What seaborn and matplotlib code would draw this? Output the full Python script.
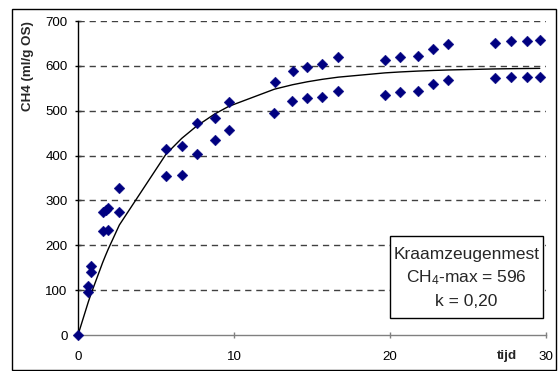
import numpy as np
import pandas as pd
import matplotlib
matplotlib.use("Agg")
import matplotlib.pyplot as plt
import seaborn as sns
from matplotlib.patches import Rectangle

# Cumulative methane production, two replicates (time in days, ml CH4 / g OS)
t_rep1 = [0, 0.66, 0.83, 1.58, 1.77, 1.94, 2.65, 5.64, 6.65, 7.6, 8.76, 9.66,
          12.63, 13.76, 14.7, 15.66, 16.69, 19.68, 20.64, 21.77, 22.78, 23.7,
          26.7, 27.78, 28.8, 29.6]
ch4_rep1 = [0, 110, 154, 275, 279, 284, 328, 415, 421, 473, 484, 519,
            563, 589, 597, 604, 620, 612, 620, 623, 638, 649,
            652, 655, 655, 658]
t_rep2 = [0.66, 0.83, 1.58, 1.94, 2.65, 5.64, 6.65, 7.6, 8.76, 9.66,
          12.58, 13.74, 14.7, 15.66, 16.69, 19.68, 20.64, 21.77, 22.78, 23.7,
          26.7, 27.78, 28.8, 29.6]
ch4_rep2 = [96, 141, 232, 233, 274, 354, 357, 403, 435, 457,
            496, 521, 528, 530, 544, 534, 542, 544, 560, 568,
            572, 575, 575, 575]

# First-order fit parameters
ch4_max = 596
k_rate = 0.20

x_ticks = [0, 10, 20, 30]
y_ticks = [0, 100, 200, 300, 400, 500, 600, 700]

points = pd.DataFrame({
    "tijd": t_rep1 + t_rep2,
    "ch4": ch4_rep1 + ch4_rep2,
})
fit_t = np.array(sorted(set(t_rep1) | set(t_rep2)))
fit = pd.DataFrame({"tijd": fit_t, "ch4": ch4_max * (1 - np.exp(-k_rate * fit_t))})

sns.set_theme(style="white")
plt.rcParams["font.family"] = ["Liberation Sans", "DejaVu Sans"]
plt.rcParams["mathtext.fontset"] = "custom"
plt.rcParams["mathtext.rm"] = "Liberation Sans"
plt.rcParams["mathtext.it"] = "Liberation Sans:italic"

W, H = 558, 371
fig = plt.figure(figsize=(W / 100, H / 100), dpi=100)
ax = fig.add_axes([78 / W, 36 / H, 468 / W, 314 / H])

# dashed horizontal gridlines (the zero line is the axis itself)
for yv in y_ticks[1:]:
    ax.axhline(yv, color="#404040", lw=1.0, dashes=(4.5, 3.5), zorder=1)

sns.lineplot(data=fit, x="tijd", y="ch4", ax=ax, color="black", lw=1.0,
             zorder=3, legend=False)
sns.scatterplot(data=points, x="tijd", y="ch4", ax=ax, marker="D",
                color="#000080", edgecolor="#000080", s=30, linewidth=0.3,
                zorder=4, clip_on=False, legend=False)

ax.set_xlim(0, 30)
ax.set_ylim(0, 700)
ax.set_xticks(x_ticks)
ax.set_yticks(y_ticks)
ax.set_xlabel("")
ax.set_ylabel("")

for side in ("top", "right"):
    ax.spines[side].set_visible(False)
ax.spines["left"].set_color("black")
ax.spines["left"].set_linewidth(1.0)
ax.spines["bottom"].set_color("#808080")
ax.spines["bottom"].set_linewidth(1.0)

ax.tick_params(axis="y", direction="inout", length=5, width=1.0,
               color="black", labelsize=9.6, pad=5, left=True)
ax.tick_params(axis="x", direction="inout", length=5, width=1.0,
               color="#808080", labelsize=9.6, pad=9, bottom=True)
for lbl in ax.get_xticklabels() + ax.get_yticklabels():
    lbl.set_color("black")

fig.text(27.5 / W, 1 - 66 / H, "CH4 (ml/g OS)", rotation=90, fontsize=9.6,
         fontweight="bold", ha="center", va="center")
fig.text(507 / W, 1 - 356 / H, "tijd", fontsize=9.6, fontweight="bold",
         ha="center", va="center")

# annotation box with fit parameters
bx0, bx1, by0, by1 = 390, 543, 236, 318
fig.add_artist(Rectangle((bx0 / W, 1 - by1 / H), (bx1 - bx0) / W, (by1 - by0) / H,
                         transform=fig.transFigure, facecolor="white",
                         edgecolor="black", lw=1.0, zorder=5))
cx = (bx0 + bx1) / 2 / W
for yy, txt in [(254, "Kraamzeugenmest"),
                (277.5, "CH$_4$-max = %d" % ch4_max),
                (301, ("k = %.2f" % k_rate).replace(".", ","))]:
    fig.text(cx, 1 - yy / H, txt, fontsize=12.5, ha="center", va="center",
             zorder=6)

# chart frame
fig.add_artist(Rectangle((12 / W, 1 / H), (556 - 12) / W, (370 - 9) / H,
                         transform=fig.transFigure, fill=False,
                         edgecolor="black", lw=1.0))

fig.savefig("out.png", dpi=100, facecolor="white")
